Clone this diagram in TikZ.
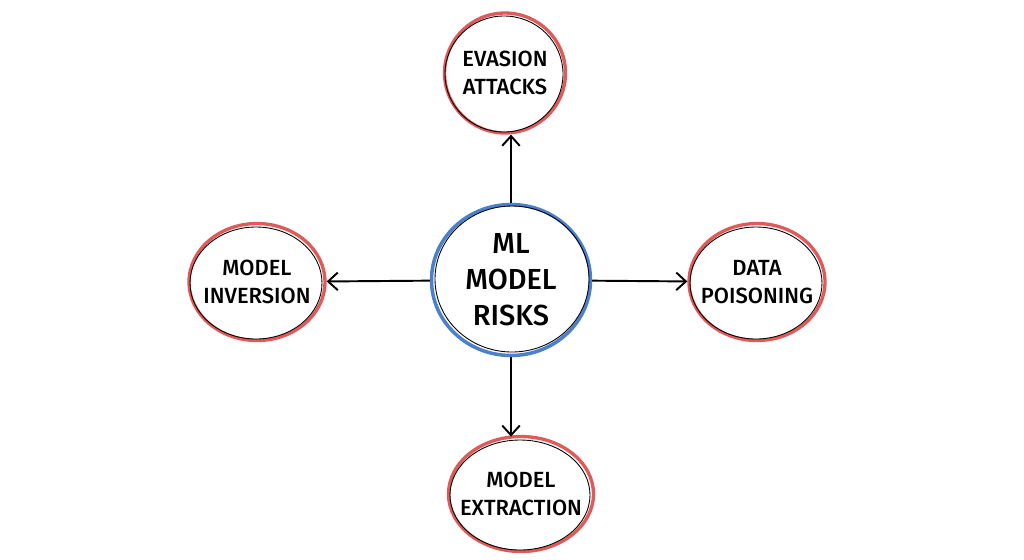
\documentclass[tikz,border=0pt]{standalone}
\usepackage{fontspec}
\setmainfont{Fira Sans}[UprightFont={* Medium}]
\usetikzlibrary{arrows.meta, shapes.geometric, calc}
\definecolor{riskred}{HTML}{E05A5A}
\definecolor{coreblue}{HTML}{4A80CC}

\tikzset{
  risk/.style={shape=ellipse, draw=riskred, line width=1.9pt, inner sep=-15pt,
    align=center, font=\fontsize{12.5}{16}\selectfont},
  core/.style={shape=ellipse, draw=coreblue, line width=2pt, inner sep=-15pt,
    align=center, font=\fontsize{16.5}{20.5}\selectfont},
  sketch/.style={draw=black, line width=0.5pt},
  link/.style={-{Straight Barb[length=5.5pt, width=10pt]}, line width=1.1pt}
}

\begin{document}
\begin{tikzpicture}[x=0.02cm, y=-0.02cm]
  \useasboundingbox (0,0) rectangle (1024,559);

  % Mittelpunkt
  \node[core, minimum width=3.18cm, minimum height=3.02cm] (risks) at (511,280) {ML\\MODEL\\RISKS};

  % Risiken
  \node[risk, minimum width=2.42cm, minimum height=2.40cm] (evasion) at (505,73) {EVASION\\ATTACKS};
  \node[risk, minimum width=2.72cm, minimum height=2.34cm] (inversion) at (257,282) {MODEL\\INVERSION};
  \node[risk, minimum width=2.72cm, minimum height=2.34cm] (poisoning) at (757,282) {DATA\\POISONING};
  \node[risk, minimum width=2.90cm, minimum height=2.30cm] (extraction) at (521,494) {MODEL\\EXTRACTION};

  % Skizzenlinien
  \draw[sketch] ($(risks.center)+(1,-1)$) ellipse [x radius=77, y radius=73];
  \foreach \n/\rx/\ry in {evasion/59/58, inversion/66/56, poisoning/66/56, extraction/70/55}
    \draw[sketch] ($(\n.center)+(-1,1)$) ellipse [x radius=\rx, y radius=\ry];

  % Pfeile
  \draw[link] (risks.north) -- (risks.north |- evasion.south);
  \draw[link] (risks) -- (inversion);
  \draw[link] (risks) -- (poisoning);
  \draw[link] (risks.south) -- ([yshift=-1]risks.south |- extraction.north);
\end{tikzpicture}
\end{document}
